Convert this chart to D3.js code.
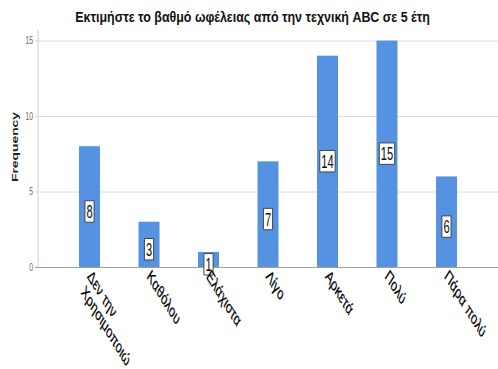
<!DOCTYPE html>
<html>
<head>
<meta charset="utf-8">
<script src="https://cdn.jsdelivr.net/npm/d3@7"></script>
<style>
  html, body { margin: 0; padding: 0; background: #fff; }
  svg { display: block; font-family: "Liberation Sans", Arial, sans-serif; }
</style>
</head>
<body>
<svg id="chart" width="498" height="369"></svg>
<script>
// Survey responses: perceived benefit of technique ABC over 5 years
const categories = ["Δεν την\nΧρησιμοποιώ", "Καθόλου", "Ελάχιστα", "Λίγο", "Αρκετά", "Πολύ", "Πάρα πολύ"];
const frequencies = [8, 3, 1, 7, 14, 15, 6];
const yTicks = [0, 5, 10, 15];
const titleText = "Εκτιμήστε το βαθμό ωφέλειας από την τεχνική ABC σε 5 έτη";
const yLabel = "Frequency";

const width = 498, height = 369;
const sx = 0.62;               // horizontal condensing of the chart body
const innerW = width / sx;

const svg = d3.select("#chart");

// Title: condensed horizontally to the target width
const titleG = svg.append("g");
const title = titleG.append("text")
  .attr("text-anchor", "middle")
  .attr("font-size", 15)
  .attr("font-weight", "bold")
  .attr("fill", "#111")
  .text(titleText);
const titleW = title.node().getComputedTextLength();
titleG.attr("transform", `translate(252.5,22) scale(${355 / titleW},1)`);

const g = svg.append("g").attr("transform", `scale(${sx},1)`);

const left = 38 / sx;
const x = d3.scaleBand()
  .domain(categories)
  .range([left, innerW])
  .paddingInner(0)
  .paddingOuter(0.366);

const y = d3.scaleLinear()
  .domain([0, 15.7])
  .range([267, 30]);

const barW = 21 / sx;

// Gridlines
g.append("g")
  .selectAll("line")
  .data(yTicks.filter(t => t > 0))
  .join("line")
  .attr("x1", left - 3 / sx)
  .attr("x2", innerW)
  .attr("y1", d => y(d) + 0.5)
  .attr("y2", d => y(d) + 0.5)
  .attr("stroke", "#d4d4d4")
  .attr("stroke-width", 1);

// Y axis line
g.append("line")
  .attr("x1", left).attr("x2", left)
  .attr("y1", y(15.7)).attr("y2", y(0))
  .attr("stroke", "#cfcfcf")
  .attr("stroke-width", 1 / sx);

// Y tick labels
g.append("g")
  .selectAll("text")
  .data(yTicks)
  .join("text")
  .attr("x", left - 5 / sx)
  .attr("y", d => y(d))
  .attr("dy", "0.35em")
  .attr("text-anchor", "end")
  .attr("font-size", 11)
  .attr("fill", "#666")
  .text(d => d);

// Y axis title, scaled to its target length
const yTitleG = g.append("g");
const yTitle = yTitleG.append("text")
  .attr("text-anchor", "middle")
  .attr("font-size", 14)
  .attr("font-weight", "bold")
  .attr("fill", "#222")
  .text(yLabel);
const yTitleW = yTitle.node().getComputedTextLength();
yTitleG.attr("transform", `translate(${18 / sx},147) rotate(-90) scale(${70 / yTitleW},1)`);

// Bars
g.append("g")
  .selectAll("rect")
  .data(frequencies)
  .join("rect")
  .attr("x", (d, i) => x(categories[i]) + x.bandwidth() / 2 - barW / 2)
  .attr("y", d => y(d))
  .attr("width", barW)
  .attr("height", d => y(0) - y(d))
  .attr("fill", "#5592e2");

// Baseline
g.append("line")
  .attr("x1", left - 3 / sx)
  .attr("x2", innerW)
  .attr("y1", y(0) + 0.5)
  .attr("y2", y(0) + 0.5)
  .attr("stroke", "#8a8a8a")
  .attr("stroke-width", 1);

// Value labels in boxes at bar mid-height
const labels = g.append("g")
  .selectAll("g")
  .data(frequencies)
  .join("g")
  .attr("transform", (d, i) => {
    const cx = x(categories[i]) + x.bandwidth() / 2;
    const cy = y(d / 2) + (String(d).length === 1 ? 5 : 0);
    return `translate(${cx},${cy})`;
  });

labels.append("text")
  .attr("text-anchor", "middle")
  .attr("dy", "0.36em")
  .attr("font-size", 18)
  .attr("fill", "#111")
  .text(d => d);

labels.each(function() {
  const grp = d3.select(this);
  const bb = grp.select("text").node().getBBox();
  const padX = 1.5 / sx;
  grp.insert("rect", "text")
    .attr("x", bb.x - padX)
    .attr("y", bb.y - 0.5)
    .attr("width", bb.width + 2 * padX)
    .attr("height", bb.height + 1)
    .attr("fill", "#fff")
    .attr("stroke", "#444")
    .attr("stroke-width", 1)
    .attr("vector-effect", "non-scaling-stroke");
});

// Category labels, rotated
const cat = g.append("g")
  .selectAll("text")
  .data(categories)
  .join("text")
  .attr("transform", d => `translate(${x(d) + x.bandwidth() / 2 + 3 / sx},${y(0) + 1}) rotate(45)`)
  .attr("font-size", 17.5)
  .attr("fill", "#000")
  .attr("stroke", "#000")
  .attr("stroke-width", 0.25);

cat.each(function(d) {
  const t = d3.select(this);
  d.split("\n").forEach((line, k) => {
    t.append("tspan")
      .attr("x", k === 0 ? 0 : 4)
      .attr("dy", k === 0 ? "0.75em" : "1.05em")
      .text(line);
  });
});
</script>
</body>
</html>
